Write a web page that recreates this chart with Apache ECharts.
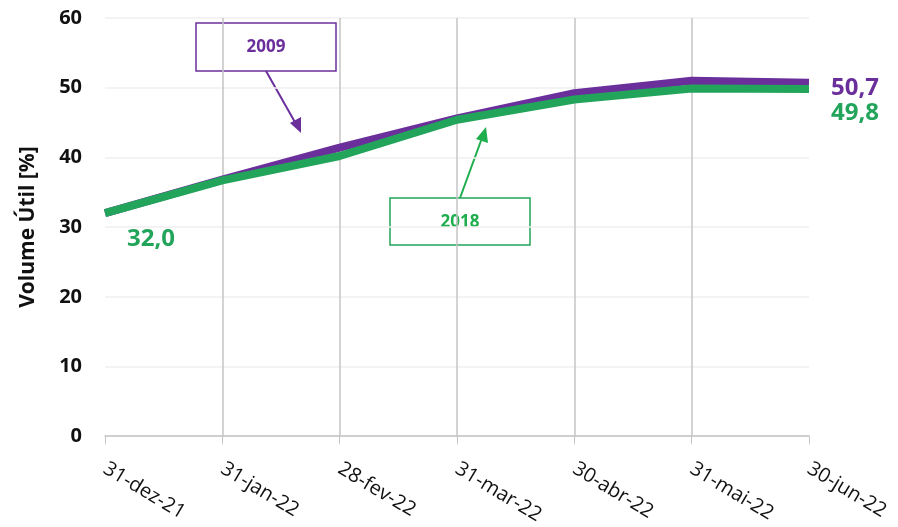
<!DOCTYPE html>
<html>
<head>
<meta charset="utf-8">
<script src="https://cdn.jsdelivr.net/npm/echarts@6/dist/echarts.min.js"></script>
<style>
  html, body { margin: 0; padding: 0; background: #fff; }
  #chart { width: 898px; height: 527px; }
</style>
</head>
<body>
<div id="chart"></div>
<script>
// datas do eixo x
const categorias = ['31-dez-21', '31-jan-22', '28-fev-22', '31-mar-22', '30-abr-22', '31-mai-22', '30-jun-22'];
// volume útil [%] - ano 2009 e 2018
const serie2009 = [32.0, 36.8, 41.4, 45.6, 49.2, 51.0, 50.7];
const serie2018 = [32.0, 36.7, 40.2, 45.4, 48.3, 49.9, 49.8];
const yTicks = [0, 10, 20, 30, 40, 50, 60];

const roxo = '#6b2f9c';
const verde = '#22a55b';

let chart = echarts.init(document.getElementById('chart'));

const fmt = v => v.toFixed(1).replace('.', ',');

let option = {
  animation: false,
  grid: { left: 105, right: 89, top: 18, bottom: 90 },
  xAxis: {
    type: 'category',
    boundaryGap: false,
    data: categorias,
    axisLine: { lineStyle: { color: '#c4c4c4', width: 1.5 } },
    axisTick: { show: true, length: 8, lineStyle: { color: '#c4c4c4' } },
    axisLabel: {
      rotate: -31,
      margin: 31,
      fontFamily: 'Open Sans',
      fontSize: 20,
      color: '#111'
    },
    splitLine: {
      show: true,
      interval: (i) => i > 0 && i < categorias.length - 1,
      lineStyle: { color: '#c4c4c4', width: 1.5 }
    }
  },
  yAxis: {
    type: 'value',
    min: yTicks[0],
    max: yTicks[yTicks.length - 1],
    interval: 10,
    name: 'Volume Útil [%]',
    nameLocation: 'middle',
    nameGap: 66,
    nameTextStyle: { fontFamily: 'Open Sans', fontWeight: 'bold', fontSize: 21, color: '#111' },
    axisLine: { show: false },
    axisTick: { show: false },
    axisLabel: { fontFamily: 'Open Sans', fontWeight: 'bold', fontSize: 20, color: '#111', margin: 23 },
    splitLine: { lineStyle: { color: '#efefef', width: 1.5 } }
  },
  series: [
    {
      name: '2009',
      type: 'line',
      data: serie2009,
      symbol: 'none',
      lineStyle: { color: roxo, width: 8 },
      endLabel: {
        show: true,
        formatter: p => fmt(p.value),
        color: roxo,
        fontFamily: 'Open Sans',
        fontWeight: 'bold',
        fontSize: 24,
        offset: [14, 5]
      }
    },
    {
      name: '2018',
      type: 'line',
      data: serie2018.map((v, i) => i === 0 ? {
        value: v,
        label: {
          show: true,
          position: 'bottom',
          formatter: p => fmt(p.value),
          color: verde,
          fontFamily: 'Open Sans',
          fontWeight: 'bold',
          fontSize: 24,
          offset: [46, 9]
        }
      } : v),
      symbol: 'circle',
      symbolSize: 0,
      showSymbol: true,
      lineStyle: { color: verde, width: 8 },
      endLabel: {
        show: true,
        formatter: p => fmt(p.value),
        color: verde,
        fontFamily: 'Open Sans',
        fontWeight: 'bold',
        fontSize: 24,
        offset: [14, 24]
      }
    }
  ],
  graphic: [
    // caixa 2009
    { type: 'rect', shape: { x: 196, y: 23, width: 140, height: 48 }, style: { fill: '#fff', stroke: roxo, lineWidth: 1.5 } },
    { type: 'text', x: 266, y: 47, style: { text: '2009', fill: roxo, font: 'bold 17px "Open Sans"', align: 'center', verticalAlign: 'middle' } },
    { type: 'line', shape: { x1: 266, y1: 71, x2: 296, y2: 124 }, style: { stroke: roxo, lineWidth: 2 } },
    { type: 'polygon', shape: { points: [[301, 133], [290, 123], [301, 117]] }, style: { fill: roxo } },
    // caixa 2018
    { type: 'rect', shape: { x: 390, y: 198, width: 140, height: 47 }, style: { fill: '#fff', stroke: verde, lineWidth: 1.5 } },
    { type: 'text', x: 460, y: 222, style: { text: '2018', fill: '#1fae4e', font: 'bold 17px "Open Sans"', align: 'center', verticalAlign: 'middle' } },
    { type: 'line', shape: { x1: 460, y1: 198, x2: 482, y2: 138 }, style: { stroke: '#1fae4e', lineWidth: 2 } },
    { type: 'polygon', shape: { points: [[486, 127], [488, 143], [476, 139]] }, style: { fill: '#1fae4e' } }
  ]
};

chart.setOption(option);
</script>
</body>
</html>
